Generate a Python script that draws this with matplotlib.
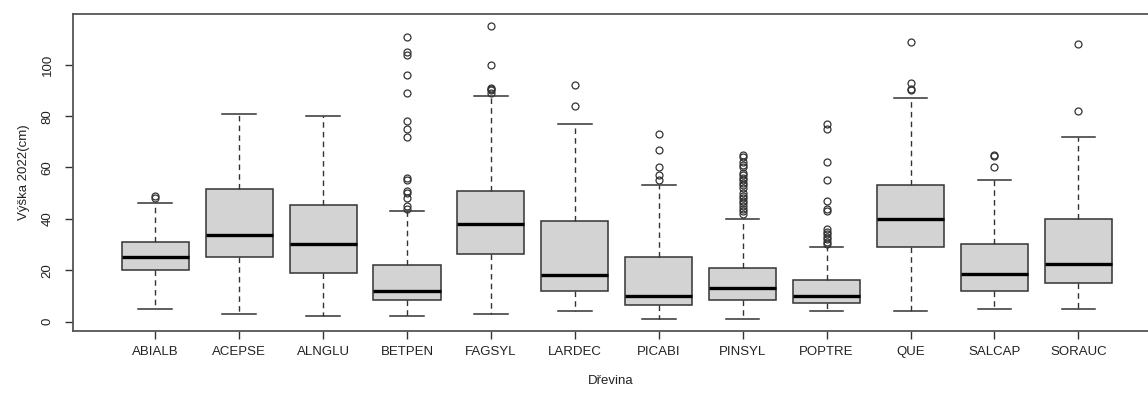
import matplotlib.pyplot as plt

plt.rcParams['font.family'] = ['Liberation Sans', 'DejaVu Sans']

species = ['ABIALB', 'ACEPSE', 'ALNGLU', 'BETPEN', 'FAGSYL', 'LARDEC',
           'PICABI', 'PINSYL', 'POPTRE', 'QUE', 'SALCAP', 'SORAUC']
whislo = [5, 3, 2, 2, 3, 4, 1, 1, 4, 4, 5, 5]
q1 = [20, 25, 19, 8.5, 26.3, 12, 6.3, 8.3, 7.1, 29.2, 12, 15]
med = [25.3, 33.6, 30, 12, 38, 18, 10, 13, 10, 40, 18.7, 22.3]
q3 = [31, 51.8, 45.2, 22, 51, 39, 25, 21, 16, 53, 30, 40]
whishi = [46, 81, 80, 43, 88, 77, 53, 40, 29, 87, 55, 72]
fliers = [
    [48, 49],
    [],
    [],
    [44, 45, 48, 50, 51, 55, 56, 72, 75, 78, 89, 96, 104, 105, 111],
    [89, 90, 90.5, 91, 100, 115],
    [84, 92],
    [55, 57, 60, 67, 73],
    [42, 43, 44, 45, 46, 47, 48, 49, 50, 52, 53, 54, 55, 56, 57, 58,
     60, 61, 62, 64, 65],
    [30, 31, 32, 33, 34, 35, 36, 43, 44, 47, 55, 62, 75, 77],
    [90, 90.5, 93, 109],
    [60, 64.5, 65],
    [82, 108],
]
yticks = [0, 20, 40, 60, 80, 100]

stats = []
for i, name in enumerate(species):
    stats.append(dict(label=name, whislo=whislo[i], q1=q1[i], med=med[i],
                      q3=q3[i], whishi=whishi[i], fliers=fliers[i]))

fig = plt.figure(figsize=(11.48, 3.94), dpi=100)
ax = fig.add_axes([73 / 1148, 1 - 331 / 394, 1 - 73 / 1148, (331 - 14) / 394])

edge = '#333333'
ax.bxp(stats, positions=range(1, 13), widths=0.8, patch_artist=True,
       boxprops=dict(facecolor='#d3d3d3', edgecolor=edge, linewidth=1.1),
       medianprops=dict(color='black', linewidth=2.4, solid_capstyle='butt'),
       whiskerprops=dict(color=edge, linewidth=1, linestyle=(0, (4, 3))),
       capprops=dict(color=edge, linewidth=1.1),
       capwidths=0.4,
       flierprops=dict(marker='o', markersize=5, markerfacecolor='none',
                       markeredgecolor=edge, markeredgewidth=0.9))

ax.set_xlim(0.02, 12.83)
ax.set_ylim(-3.7, 119.8)
ax.set_yticks(yticks)
ax.set_yticklabels([str(v) for v in yticks], rotation=90, va='center')
ax.tick_params(axis='both', colors='#333333', labelcolor='#222222',
               labelsize=9.5, length=6, width=1)
ax.tick_params(axis='x', pad=5)
ax.tick_params(axis='y', pad=8)
for s in ['left', 'top', 'bottom']:
    ax.spines[s].set_color('#555555')
    ax.spines[s].set_linewidth(1.3)
ax.spines['right'].set_visible(False)

ax.set_ylabel('Výška 2022(cm)', fontsize=9.5, color='#222222', labelpad=8)
ax.set_xlabel('Dřevina', fontsize=9.5, color='#222222', labelpad=12)

fig.savefig('out.png', dpi=100)
